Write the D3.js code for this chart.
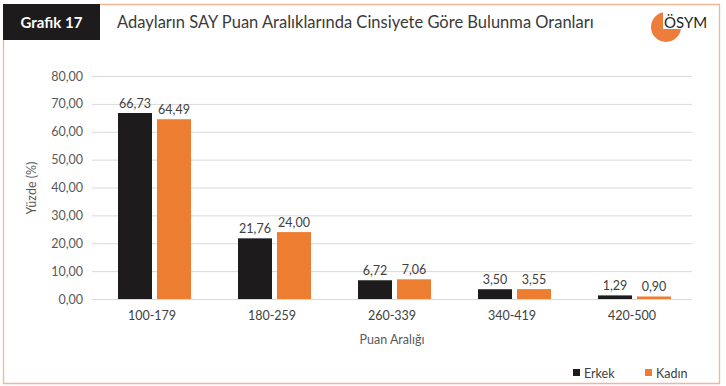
<!DOCTYPE html>
<html><head><meta charset="utf-8">
<script src="https://cdn.jsdelivr.net/npm/d3@7/dist/d3.min.js"></script>
<style>body{margin:0;background:#fff}svg{display:block}text{font-family:Lato,"Noto Sans",sans-serif}</style>
</head><body>
<script>
const categories = ["100-179","180-259","260-339","340-419","420-500"];
const series = ["Erkek","Kadın"];
const erkek = [66.73, 21.76, 6.72, 3.50, 1.29];
const kadin = [64.49, 24.00, 7.06, 3.55, 0.90];
const yTicks = [0,10,20,30,40,50,60,70,80];
const colors = ["#1d1b1c","#ed7d31"];
const values = [erkek, kadin];

const W = 726, H = 386;
const svg = d3.select("body").append("svg").attr("width", W).attr("height", H);
const fmt = v => d3.format(".2f")(v).replace(".", ",");

// frame
const frame = "#f2b596";
svg.append("path").attr("d","M100,4.5 H719.5 V383.5 H3.5 V40").attr("fill","none").attr("stroke",frame).attr("stroke-width",1.3);
svg.append("rect").attr("x",3).attr("y",4).attr("width",97).attr("height",36).attr("fill","#1d1b1c");
svg.append("text").attr("x",51.5).attr("y",28).attr("text-anchor","middle").attr("fill","#fff")
  .attr("font-size",15).attr("font-weight","bold").text("Grafik 17");
svg.append("text").attr("x",117).attr("y",28).attr("fill","#3a3a3a").attr("font-size",16.5)
  .text("Adayların SAY Puan Aralıklarında Cinsiyete Göre Bulunma Oranları");

// logo
svg.append("circle").attr("cx",666).attr("cy",27).attr("r",15).attr("fill","#ec7d3c");
svg.append("rect").attr("x",663).attr("y",9).attr("width",48).attr("height",20).attr("fill","#fff");
svg.append("text").attr("x",664).attr("y",28).attr("fill","#231f20").attr("font-size",15)
  .attr("font-family","Liberation Sans, Arial, sans-serif").text("ÖSYM");

// scales
const x0 = d3.scaleBand().domain(categories).range([92, 692]);
const x1 = d3.scaleBand().domain(series).range([-34, 39]).paddingInner(0.128);
const y = d3.scaleLinear().domain([0, 80]).range([299, 76]);

// grid + y labels
const yAxis = d3.axisLeft(y).tickValues(yTicks).tickSize(-600).tickFormat(fmt).tickPadding(9);
const gy = svg.append("g").attr("transform","translate(92,0)").call(yAxis);
gy.select(".domain").remove();
gy.selectAll(".tick line").attr("stroke","#d9d9d9").attr("stroke-width",1);
gy.selectAll(".tick text").attr("fill","#595959").attr("font-size",12.5).attr("font-family","Lato, sans-serif");

// x labels
const xAxis = d3.axisBottom(x0).tickSize(0).tickPadding(12);
const gx = svg.append("g").attr("transform","translate(0,299)").call(xAxis);
gx.select(".domain").remove();
gx.selectAll(".tick text").attr("fill","#404040").attr("font-size",12.5).attr("font-family","Lato, sans-serif");

// bars
series.forEach((s, si) => {
  const g = svg.append("g");
  g.selectAll("rect").data(values[si]).join("rect")
    .attr("x", (d,i) => x0(categories[i]) + x0.bandwidth()/2 + x1(s))
    .attr("y", d => y(d))
    .attr("width", x1.bandwidth())
    .attr("height", d => y(0) - y(d))
    .attr("fill", colors[si]);
  g.selectAll("text").data(values[si]).join("text")
    .attr("x", (d,i) => x0(categories[i]) + x0.bandwidth()/2 + x1(s) + x1.bandwidth()/2)
    .attr("y", d => y(d) - 5)
    .attr("text-anchor","middle").attr("fill","#404040").attr("font-size",12.5)
    .text(d => fmt(d));
});

// axis titles
svg.append("text").attr("transform","translate(36,188) rotate(-90)").attr("text-anchor","middle")
  .attr("fill","#595959").attr("font-size",12.5).text("Yüzde (%)");
svg.append("text").attr("x",392).attr("y",344).attr("text-anchor","middle")
  .attr("fill","#595959").attr("font-size",12.5).text("Puan Aralığı");

// legend
const leg = svg.append("g");
const legX = [573, 645];
series.forEach((s, si) => {
  leg.append("rect").attr("x",legX[si]).attr("y",369).attr("width",7).attr("height",7).attr("fill",colors[si]);
  leg.append("text").attr("x",legX[si]+11).attr("y",378).attr("fill","#404040").attr("font-size",12.5).text(s);
});
</script>
</body></html>
